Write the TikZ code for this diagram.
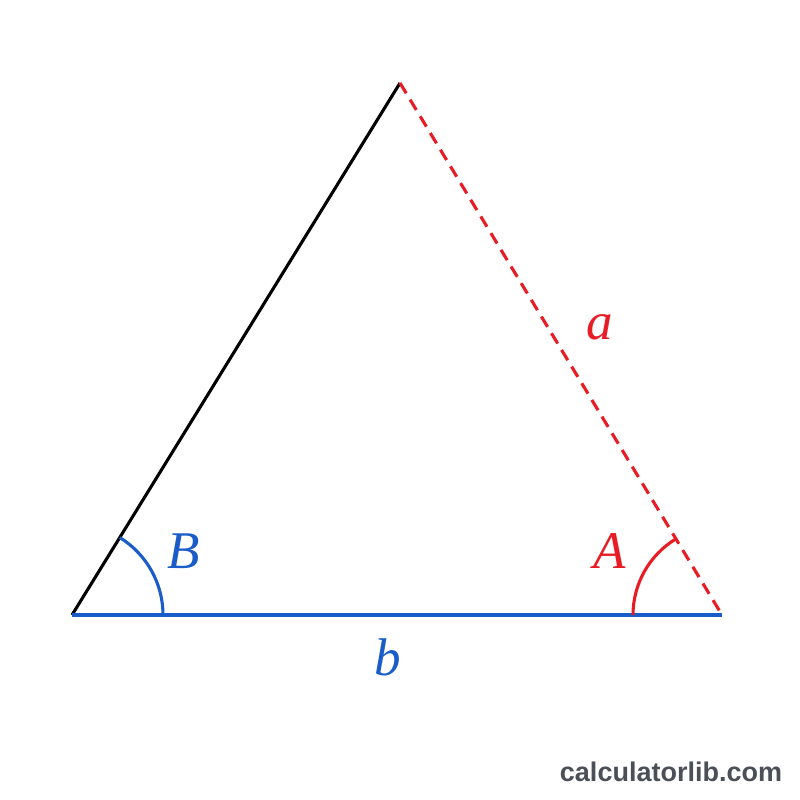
\documentclass[tikz,border=0pt]{standalone}
\usepackage{fontspec}
\newfontfamily\wmfont{Liberation Sans}
\newfontfamily\lblfont{Liberation Serif}
\definecolor{tred}{HTML}{E81C24}
\definecolor{tblue}{HTML}{1A5CC8}
\definecolor{wmgray}{HTML}{4A4F58}
\begin{document}
\begin{tikzpicture}[x=1pt,y=-1pt,
  side/.style={line width=3.1pt},
  lbl/.style={font=\lblfont\itshape\fontsize{53}{60}\selectfont, inner sep=0pt},
  anglearc/.style={line width=3.1pt}]
\useasboundingbox (0,0) rectangle (800,800);
\fill[white] (0,0) rectangle (800,800);
\coordinate (L) at (72,615);
\coordinate (T) at (400,83);
\coordinate (R) at (722,615);
\draw[side, black] (L) -- (T);
\draw[side, tred, dash pattern=on 12pt off 7.5pt] (T) -- (R);
\draw[side, tblue] (L) -- (R);
% angle arcs (y axis flipped: positive angles go downward, so negate)
\draw[anglearc, tblue] ([xshift=91pt]L) arc[start angle=0, end angle=-58.3, radius=91];
\draw[anglearc, tred] ([xshift=-89pt]R) arc[start angle=180, end angle=238.8, radius=89];
\node[lbl, text=tblue] (Blab) at (184,551) {B};
\node[lbl, text=tred] (Alab) at (610,551) {A};
\node[lbl, text=tred] (alab) at (600,327) {a};
\node[lbl, text=tblue] (blab) at (388,657) {b};
\node[font=\wmfont\bfseries\fontsize{27}{32}\selectfont, text=wmgray, inner sep=0pt] (wm) at (671,772) {calculatorlib.com};
\end{tikzpicture}
\end{document}
